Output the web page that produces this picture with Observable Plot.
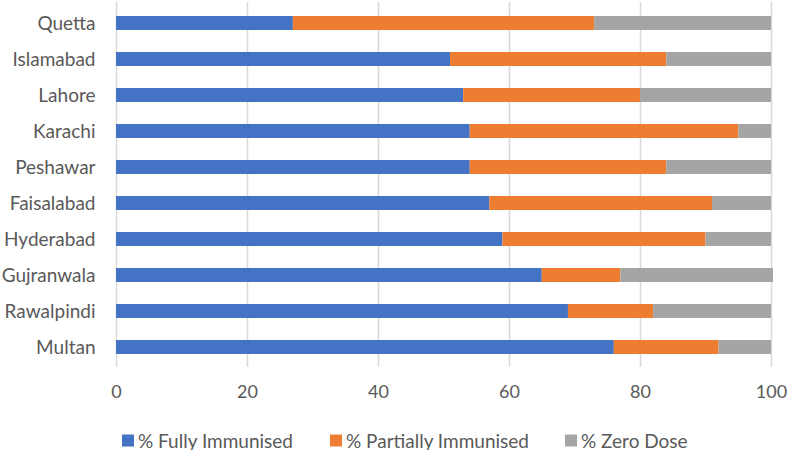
<!DOCTYPE html>
<html>
<head>
<meta charset="utf-8">
<script src="https://cdn.jsdelivr.net/npm/d3@7"></script>
<script src="https://cdn.jsdelivr.net/npm/@observablehq/plot@0.6"></script>
<style>
  body { margin: 0; background: #fff; font-family: Lato, "Open Sans", sans-serif; }
  #chart { width: 788px; height: 410px; }
  .legend { position: relative; height: 40px; font-size: 19px; color: #595959; font-family: Lato, sans-serif; }
  .legend .item { position: absolute; top: 30px; transform: translateY(-50%); display: flex; align-items: center; white-space: nowrap; }
  .legend .sw { width: 12px; height: 12px; margin-right: 4px; }
</style>
</head>
<body>
<div id="chart"></div>
<script>
const cities = ["Quetta","Islamabad","Lahore","Karachi","Peshawar","Faisalabad","Hyderabad","Gujranwala","Rawalpindi","Multan"];
const seriesNames = ["% Fully Immunised","% Partially Immunised","% Zero Dose"];
const fully   = [27, 51, 53, 54, 54, 57, 59, 65, 69, 76];
const partial = [46, 33, 27, 41, 30, 34, 31, 12, 13, 16];
const zero    = [27, 16, 20,  5, 16,  9, 10, 23.3, 18, 8];
const xTicks = [0, 20, 40, 60, 80, 100];
const colors = ["#4472C4", "#ED7D31", "#A5A5A5"];

const seriesValues = [fully, partial, zero];
const data = [];
cities.forEach((c, i) => {
  seriesNames.forEach((s, j) => data.push({city: c, series: s, value: seriesValues[j][i]}));
});

const plot = Plot.plot({
  width: 788,
  height: 410,
  marginLeft: 116,
  marginRight: 17,
  marginTop: 2,
  marginBottom: 43,
  style: {fontFamily: "Lato, sans-serif", fontSize: "18px", color: "#595959", background: "#fff"},
  x: {domain: [0, 100], ticks: xTicks, label: null},
  y: {domain: cities, paddingInner: 0.6, paddingOuter: 0.29, align: 0.53, label: null},
  color: {domain: seriesNames, range: colors},
  marks: [
    Plot.gridX(xTicks, {stroke: "#d9d9d9", strokeOpacity: 1, strokeWidth: 1.5}),
    Plot.barX(data, Plot.stackX({y: "city", x: "value", fill: "series", order: seriesNames})),
    Plot.axisX({ticks: xTicks, tickSize: 0, tickPadding: 18, fontSize: 18, fill: "#595959", label: null}),
    Plot.axisY({tickSize: 0, tickPadding: 21, fontSize: 19, fill: "#595959", label: null})
  ]
});
document.getElementById("chart").appendChild(plot);

const legend = document.createElement("div");
legend.className = "legend";
const lx = [122, 330, 565];
seriesNames.forEach((s, j) => {
  const item = document.createElement("div");
  item.className = "item";
  item.style.left = lx[j] + "px";
  const sw = document.createElement("span");
  sw.className = "sw";
  sw.style.background = colors[j];
  const t = document.createElement("span");
  t.textContent = s;
  item.appendChild(sw); item.appendChild(t);
  legend.appendChild(item);
});
document.body.appendChild(legend);
</script>
</body>
</html>
